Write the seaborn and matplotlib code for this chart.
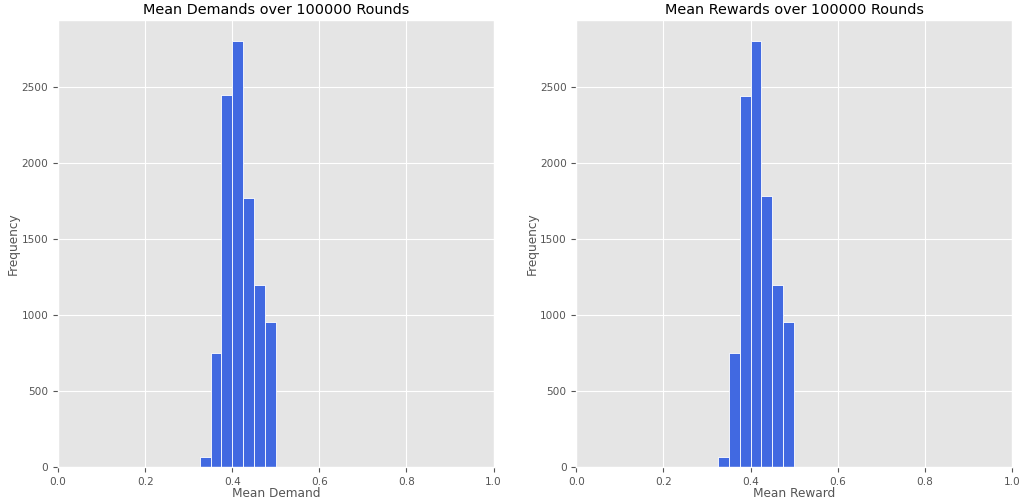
import numpy as np
import matplotlib
matplotlib.use("Agg")
import matplotlib.pyplot as plt
import seaborn as sns

# Histogram bin edges shared by both panels
bin_edges = [0.325, 0.35, 0.375, 0.4, 0.425, 0.45, 0.475, 0.5]

# Counts per bin
demand_counts = [64, 752, 2447, 2803, 1774, 1195, 954]
reward_counts = [64, 752, 2443, 2803, 1787, 1195, 954]

titles = ["Mean Demands over 100000 Rounds", "Mean Rewards over 100000 Rounds"]
xlabels = ["Mean Demand", "Mean Reward"]

plt.style.use("ggplot")
fig, axes = plt.subplots(1, 2, figsize=(10.19, 5.01), dpi=100)

centers = [(a + b) / 2 for a, b in zip(bin_edges[:-1], bin_edges[1:])]
for ax, counts, title, xlabel in zip(axes, [demand_counts, reward_counts], titles, xlabels):
    sns.histplot(x=centers, weights=counts, bins=bin_edges, ax=ax,
                 color="royalblue", edgecolor="white", linewidth=0.6, alpha=1.0)
    ax.set_xlim(0, 1)
    ax.set_title(title, fontsize=10.4, pad=4)
    ax.set_xlabel(xlabel, fontsize=8.7, labelpad=0.5)
    ax.set_ylabel("Frequency", fontsize=8.7, labelpad=1)
    ax.tick_params(labelsize=7.6)

fig.subplots_adjust(left=0.057, right=0.993, bottom=0.068, top=0.96, wspace=0.19)
fig.savefig("out.png", dpi=100)
